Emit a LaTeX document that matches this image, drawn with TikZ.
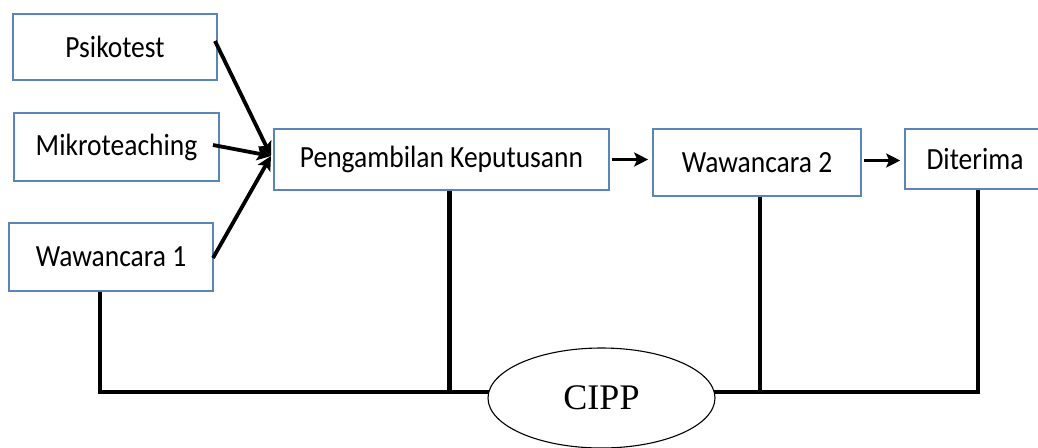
\documentclass[tikz,border=0pt]{standalone}
\usepackage{fontspec}
\usepackage{graphicx}
\setmainfont{Carlito}
\newfontfamily\cippfont{Liberation Serif}
\usetikzlibrary{arrows.meta,shapes.geometric}
\definecolor{boxblue}{HTML}{5B84B8}
\newcommand{\tallt}[1]{\scalebox{1}[1.12]{#1}}
\tikzset{
  stagebox/.style={draw=boxblue,line width=1.6pt,fill=white,inner sep=0pt,font=\fontsize{27.5}{31}\selectfont},
  conn/.style={line width=3.8pt,-{Stealth[length=14pt,width=14pt,inset=3pt]}},
  link/.style={line width=4.6pt,line join=miter},
  cippstyle/.style={ellipse,draw,line width=1.1pt,fill=white,minimum width=227pt,minimum height=100pt,inner sep=0pt,font=\cippfont\fontsize{36}{40}\selectfont},
}
\begin{document}
\begin{tikzpicture}[x=1pt,y=-1pt]
\useasboundingbox (0,0) rectangle (1038,447);
\fill[white] (0,0) rectangle (1038,447);
% boxes
\node[stagebox,minimum width=204pt,minimum height=66pt] (psi) at (115,47) {\tallt{Psikotest}};
\node[stagebox,minimum width=205pt,minimum height=68pt] (mik) at (116.5,147) {\tallt{Mikroteaching}};
\node[stagebox,minimum width=204pt,minimum height=68pt] (waw1) at (111,257) {\tallt{Wawancara 1}};
\node[stagebox,minimum width=335pt,minimum height=61pt] (pen) at (441.5,159.5) {\tallt{Pengambilan Keputusann}};
\node[stagebox,minimum width=208pt,minimum height=67pt] (waw2) at (757,162.5) {\tallt{Wawancara 2}};
\node[stagebox,minimum width=140pt,minimum height=60pt] (dit) at (975,159) {\tallt{Diterima}};
% helper coordinates
\coordinate (tgt) at (271,156);
\coordinate (a1) at (215,41);
\coordinate (a2) at (213,145);
\coordinate (a3) at (213,258);
% arrows into Pengambilan
\draw[conn] (a1) -- (tgt);
\draw[conn] (a2) -- (tgt);
\draw[conn] (a3) -- (tgt);
\draw[conn] (pen.east) ++(2,0) coordinate (p1) -- ([xshift=-4pt]waw2.west |- p1);
\draw[conn] (waw2.east) ++(2,-2) coordinate (p2) -- ([xshift=-4pt]dit.west |- p2);
% CIPP links
\coordinate (h) at (0,392);
\draw[link] ([xshift=-11pt]waw1.south) -- ([xshift=-11pt]waw1.south |- h) -- (601,392);
\draw[link] ([xshift=8pt]pen.south) -- ([xshift=8pt]pen.south |- h);
\draw[link] ([xshift=3pt]waw2.south) -- ([xshift=3pt]waw2.south |- h);
\draw[link] ([xshift=3pt]dit.south) -- ([xshift=3pt]dit.south |- h) -- (601,392);
% CIPP ellipse
\node[cippstyle] (cipp) at (601.5,398) {CIPP};
\end{tikzpicture}
\end{document}
